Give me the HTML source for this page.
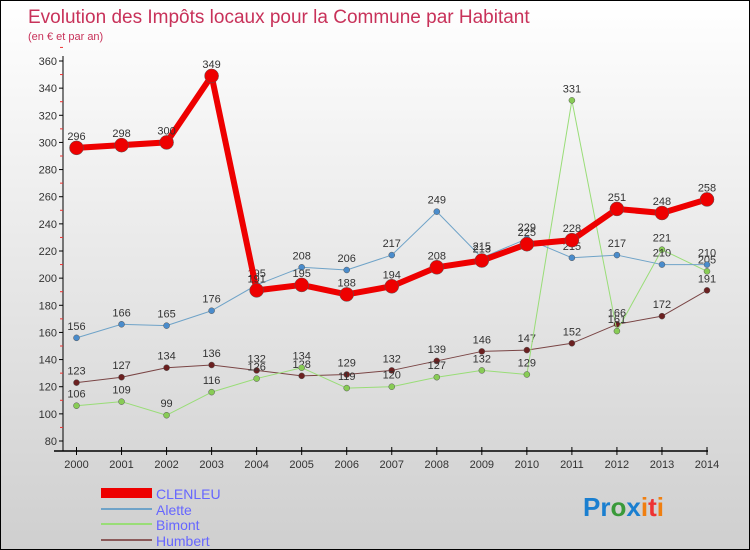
<!DOCTYPE html>
<html><head><meta charset="utf-8"><style>
body{margin:0}
#c{width:750px;height:550px;position:relative;box-sizing:border-box;border:1px solid #000;background:linear-gradient(#fff,#cfcfcf);font-family:"Liberation Sans",sans-serif;overflow:hidden}
</style></head><body>
<div id="c">
<svg id="s" width="750" height="550" style="position:absolute;left:0;top:0">
<text x="27" y="22" font-size="19" fill="#c8325a">Evolution des Impôts locaux pour la Commune par Habitant</text>
<text x="27" y="39" font-size="11" fill="#c8325a">(en € et par an)</text>
<g id="ax"></g><g id="ser"></g>
<g>
<rect x="100" y="487" width="51" height="10" fill="#e00"/>
<text x="155" y="498" font-size="14" fill="#6666ff">CLENLEU</text>
<rect x="100" y="507" width="51" height="2" fill="#6fa3c8"/>
<text x="155" y="514" font-size="14" fill="#6666ff">Alette</text>
<rect x="100" y="522" width="51" height="2" fill="#99dd77"/>
<text x="155" y="529" font-size="14" fill="#6666ff">Bimont</text>
<rect x="100" y="538" width="51" height="2" fill="#8b5a5a"/>
<text x="155" y="545" font-size="14" fill="#6666ff">Humbert</text>
</g>
<text x="582" y="515" font-size="26" font-weight="bold"><tspan fill="#1a7fd0">Pr</tspan><tspan fill="#3a9a3a">o</tspan><tspan fill="#1a7fd0">x</tspan><tspan fill="#f07f10">i</tspan><tspan fill="#e33">t</tspan><tspan fill="#f07f10">i</tspan></text>
</svg>
</div>
<script>
const years=[2000,2001,2002,2003,2004,2005,2006,2007,2008,2009,2010,2011,2012,2013,2014];
const yTicks=[80,100,120,140,160,180,200,220,240,260,280,300,320,340,360];
const clenleu=[296,298,300,349,191,195,188,194,208,213,225,228,251,248,258];
const alette=[156,166,165,176,195,208,206,217,249,215,229,215,217,210,210];
const bimont=[106,109,99,116,126,134,119,120,127,132,129,331,161,221,205];
const humbert=[123,127,134,136,132,128,129,132,139,146,147,152,166,172,191];
const NS="http://www.w3.org/2000/svg";
const X=i=>75.5+i*(706-75.5)/(years.length-1);
const Y=v=>440-(v-80)*(380/280);
function mk(t,a,p){const e=document.createElementNS(NS,t);for(const k in a)e.setAttribute(k,a[k]);p.appendChild(e);return e;}
const ax=document.getElementById('ax'),ser=document.getElementById('ser');
const ya=mk('line',{x1:62,y1:55,x2:62,y2:450,stroke:'#000'},ax);


const xa=mk('line',{x1:53,y1:450,x2:707,y2:450,stroke:'#000','stroke-width':1.5},ax);


yTicks.forEach(v=>{
 mk('line',{x1:58,x2:62,y1:Y(v),y2:Y(v),stroke:'#000'},ax);
 mk('line',{x1:59,x2:62,y1:Y(v+10),y2:Y(v+10),stroke:'#e33'},ax);
 const t=mk('text',{x:56,y:Y(v)+4,'font-size':11,'text-anchor':'end',fill:'#333'},ax);t.textContent=v;
 
 
});
years.forEach((y,i)=>{
 mk('line',{x1:X(i),x2:X(i),y1:446,y2:454,stroke:'#000'},ax);
 const t=mk('text',{x:X(i),y:467,'font-size':11,'text-anchor':'middle',fill:'#333'},ax);t.textContent=y;
 
 
});
function series(d,name,col,w,r,dot){
 const g=mk('g',{},ser);
 
 
 const pl=mk('polyline',{points:d.map((v,i)=>X(i)+','+Y(v)).join(' '),fill:'none',stroke:col,'stroke-width':w,'stroke-linejoin':'round'},g);
 
 
 d.forEach((v,i)=>{
  const c=mk('circle',{cx:X(i),cy:Y(v),r:r,fill:dot,stroke:'#555','stroke-width':0.5},g);
  
  
  const t=mk('text',{x:X(i),y:Y(v)-8,'font-size':11,'text-anchor':'middle',fill:'#333'},g);t.textContent=v;
  
  
 });
}
series(humbert,'humbert','#7a4545',1,3,'#6b2020');
series(bimont,'bimont','#99dd77',1,3,'#88cc55');
series(alette,'alette','#6fa3c8',1,3,'#4a8ccc');
series(clenleu,'clenleu','#e00',6,7,'#e00');
</script>
</body></html>
